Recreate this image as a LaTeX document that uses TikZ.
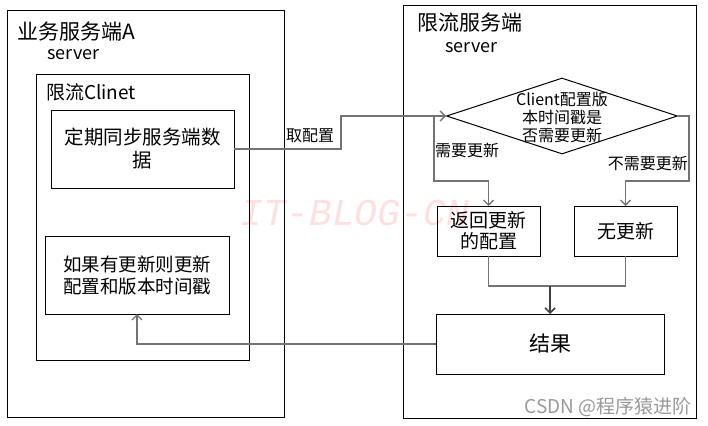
\documentclass[tikz,border=0pt]{standalone}
\usepackage{fontspec}
\setmainfont{Noto Sans CJK SC}
\newfontfamily\wmfont{Liberation Mono}
\usetikzlibrary{arrows.meta,shapes.geometric}

\begin{document}
\begin{tikzpicture}[x=1pt,y=-1pt,
  frame/.style={draw,line width=1pt,inner sep=0pt,outer sep=0pt},
  box/.style={frame,align=center},
  title/.style={inner sep=0pt,font=\fontsize{21}{25}\selectfont},
  sub/.style={inner sep=0pt,font=\fontsize{18}{22}\selectfont},
  lbl/.style={inner sep=0pt,font=\fontsize{16}{18}\selectfont},
  flow/.style={draw=black!55,line width=1.3pt},
  tip/.style={-{Straight Barb[length=5pt,width=10pt]}}]
\useasboundingbox (0,0) rectangle (708,425);
% watermark
\node[text=red!12,font=\wmfont\itshape\fontsize{38}{38}\selectfont] (wm) at (355,213) {IT-BLOG-CN};
% client side
\node[frame,minimum width=277pt,minimum height=406pt] (appA) at (145.5,214) {};
\node[title,anchor=west] (appAname) at (17,32) {业务服务端A};
\node[sub,anchor=west] (appAsrv) at (47,55) {server};
\node[frame,minimum width=213pt,minimum height=285pt] (client) at (142.5,217.5) {};
\node[title,anchor=west,font=\fontsize{19}{22}\selectfont] (clientname) at (46,92) {限流Clinet};
\node[box,minimum width=183pt,minimum height=78pt,font=\fontsize{19.5}{23}\selectfont] (sync) at (142.5,149) {定期同步服务端数\\据};
\node[box,minimum width=184pt,minimum height=78pt,font=\fontsize{18.5}{22}\selectfont] (update) at (137,275) {如果有更新则更新\\配置和版本时间戳};
% server side
\node[frame,minimum width=293pt,minimum height=412pt] (limit) at (549.5,212) {};
\node[title,anchor=west] (limitname) at (417,23) {限流服务端};
\node[sub,anchor=west] (limitsrv) at (445,48) {server};
\node[diamond,draw,line width=1pt,inner sep=0pt,minimum width=231pt,minimum height=76pt] (check) at (562,116) {};
\node[lbl,align=center,font=\fontsize{16}{18}\selectfont] (checktxt) at (562,117) {Client配置版\\本时间戳是\\否需要更新};
\node[box,minimum width=103pt,minimum height=50pt,font=\fontsize{19}{21}\selectfont] (newcfg) at (488.5,231) {返回更新\\的配置};
\node[box,minimum width=103pt,minimum height=50pt,font=\fontsize{19}{21}\selectfont] (noupd) at (625.5,231) {无更新};
\node[box,minimum width=228pt,minimum height=60pt,font=\fontsize{21}{25}\selectfont] (result) at (550,344) {结果};
\coordinate (merge) at (550,286);
% labels
\node[lbl,anchor=west] (fetch) at (286,136) {取配置};
\node[lbl,anchor=west] (yes) at (435,150) {需要更新};
\node[lbl,anchor=east] (no) at (688,163) {不需要更新};
% connectors
\draw[flow,tip] (sync.east) -- ++(107,0) |- (check.west);
\draw[flow,tip] (check.west) -- ++(-12,0) -- ++(0,65) -| (newcfg.north);
\draw[flow,tip] (check.east) -- ++(11,0) -- ++(0,65) -| (noupd.north);
\draw[flow] (newcfg.south) |- (merge);
\draw[flow] (noupd.south) |- (merge);
\draw[flow,draw=black!75,line width=1.6pt,tip] (merge) -- (result.north);
\draw[flow,tip] (result.west) -| (update.south);
% footer
\node[text=black!40,inner sep=0pt,anchor=east,font=\fontsize{19}{21}\selectfont] (csdn) at (692,407) {CSDN @程序猿进阶};
\end{tikzpicture}
\end{document}
